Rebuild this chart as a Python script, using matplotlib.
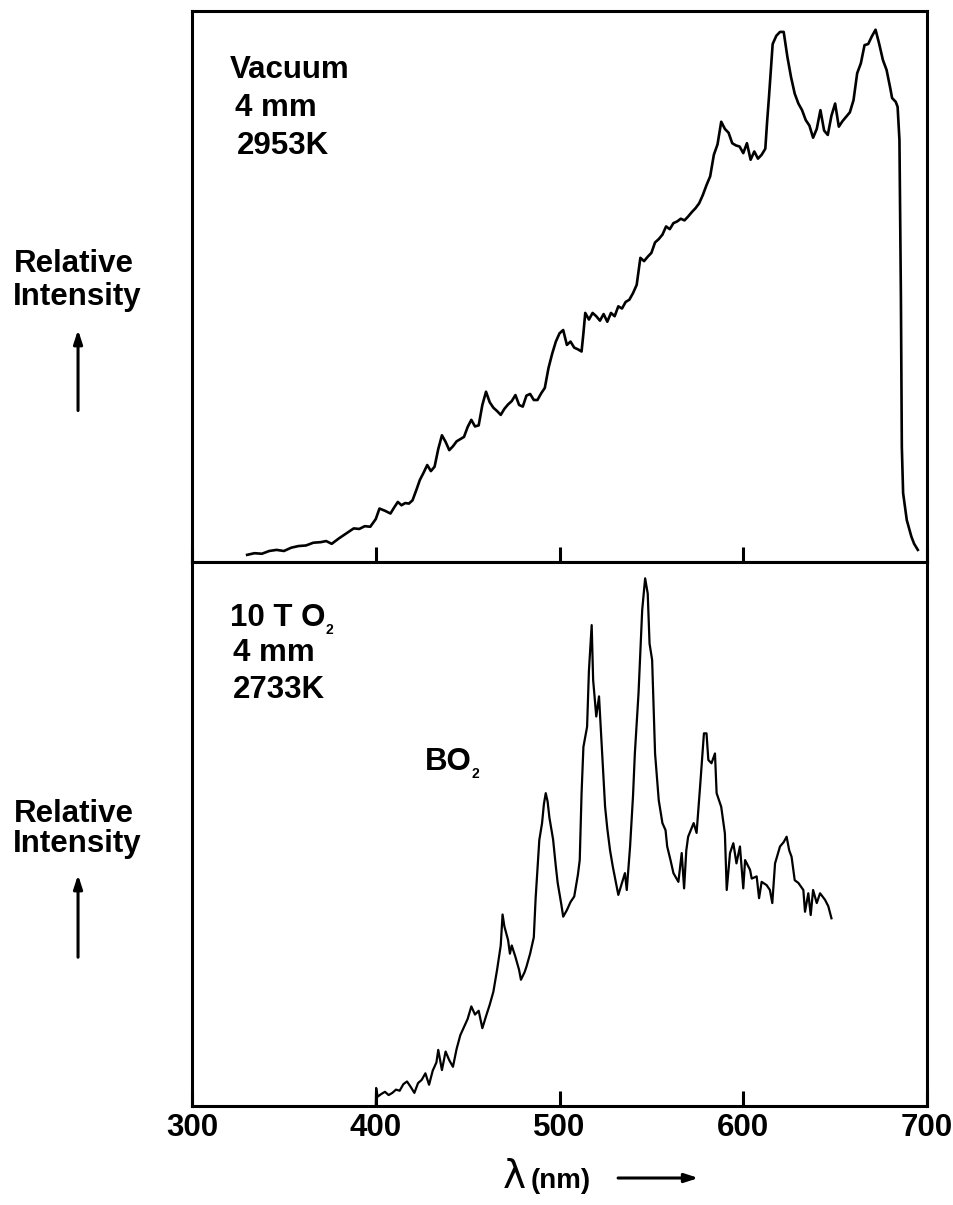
import matplotlib
matplotlib.use("Agg")
import matplotlib.pyplot as plt

plt.rcParams["font.family"] = ["Liberation Sans", "DejaVu Sans"]
plt.rcParams["font.weight"] = "bold"

# emission spectrum in vacuum, 4 mm above the surface
vac_wl = [330, 334, 338, 342, 346, 350, 354, 358, 362, 366,
          370, 373, 376, 380, 384, 388, 391, 394, 397, 400,
          402, 405, 408, 410, 412, 414, 416, 418, 420, 422,
          424, 426, 428, 430, 432, 434, 436, 438, 440, 442,
          444, 446, 448, 450, 452, 454, 456, 458, 460, 462,
          464, 466, 468, 470, 472, 474, 476, 478, 480, 482,
          484, 486, 488, 490, 492, 494, 496, 498, 500, 502,
          504, 506, 508, 510, 512, 513, 514, 516, 518, 520,
          522, 524, 526, 528, 530, 532, 534, 536, 538, 540,
          542, 544, 546, 548, 550, 552, 554, 556, 558, 560,
          562, 564, 566, 568, 570, 572, 574, 576, 578, 580,
          582, 584, 586, 588, 590, 592, 594, 596, 598, 600,
          602, 604, 606, 608, 610, 612, 613, 614, 616, 618,
          620, 622, 624, 626, 628, 630, 632, 634, 636, 638,
          640, 642, 644, 646, 648, 650, 652, 654, 656, 658,
          660, 662, 664, 666, 668, 670, 672, 674, 676, 678,
          680, 681, 683, 684, 685, 685.8, 686.3, 687, 689, 691.5,
          693, 695]
vac_int = [1.3, 1.6, 1.5, 2.0, 2.2, 2.0, 2.6, 2.9, 3.0, 3.5,
           3.6, 3.8, 3.3, 4.3, 5.2, 6.1, 6.0, 6.5, 6.4, 7.8,
           9.7, 9.3, 8.8, 9.9, 10.9, 10.3, 10.7, 10.6, 11.2, 13.0,
           14.9, 16.2, 17.6, 16.5, 17.3, 20.5, 23.0, 21.8, 20.3, 21.0,
           21.9, 22.3, 22.7, 24.5, 25.8, 24.6, 24.8, 28.5, 30.9, 29.0,
           28.0, 27.4, 26.7, 27.8, 28.6, 29.2, 30.3, 28.5, 28.2, 30.2,
           30.5, 29.4, 29.4, 30.6, 31.6, 35.2, 37.8, 40.0, 41.5, 42.1,
           39.4, 40.0, 38.9, 38.6, 38.2, 41.5, 45.2, 44.0, 45.2, 44.6,
           43.8, 45.0, 43.6, 45.2, 44.6, 46.4, 46.0, 47.2, 47.6, 48.8,
           50.3, 55.2, 54.6, 55.4, 56.1, 58.0, 58.6, 59.4, 60.9, 60.4,
           61.5, 61.8, 62.3, 62.0, 62.7, 63.5, 64.2, 65.1, 66.6, 68.4,
           70.0, 73.9, 75.8, 79.9, 78.6, 77.9, 76.0, 75.6, 75.4, 74.2,
           76.0, 73.0, 74.5, 73.2, 73.9, 75.0, 80.0, 84.4, 94.0, 95.5,
           96.2, 96.2, 91.7, 88.0, 85.0, 83.2, 82.0, 80.2, 79.2, 77.0,
           78.6, 82.0, 78.3, 77.5, 81.0, 83.2, 79.0, 80.0, 80.8, 81.6,
           83.8, 88.7, 90.5, 93.8, 94.0, 95.4, 96.6, 94.0, 91.1, 89.3,
           86.0, 84.2, 83.5, 82.6, 76.6, 48.0, 20.9, 12.5, 7.6, 4.6,
           3.3, 2.2]

# emission spectrum in 10 torr O2, BO2 bands
ox_wl = [400.0, 400.2, 401, 403, 405, 407, 409, 411, 413, 415,
         417, 419, 421, 423, 425, 427, 429, 431, 433, 434,
         436, 438, 440, 442, 444, 446, 448, 450, 452, 454,
         456, 458, 460, 462, 464, 466, 468, 469, 470, 472,
         473, 474, 476, 478, 479, 481, 482, 484, 486, 487,
         489, 490.5, 491.5, 492.5, 493.5, 494.5, 496.5, 498, 499, 501,
         502, 504, 506, 508, 510, 511, 512, 513, 515, 516,
         517.5, 518.3, 520, 521.5, 523, 524.8, 526, 527.5, 529, 531,
         532, 534, 535.6, 536.6, 538.4, 540, 541, 543, 545, 546.6,
         548, 549, 550.4, 552, 554, 556, 557.7, 558.6, 560.4, 562,
         564.7, 566.5, 567.8, 569, 570, 573, 574.6, 576.5, 578.6, 580,
         581, 582.7, 584.6, 585.5, 588, 590, 591, 592.8, 594.6, 596.3,
         598.2, 600, 601, 603.7, 604.6, 607.3, 608.6, 610, 612.7, 614.5,
         615.8, 617.3, 620, 622, 623.6, 625, 626.3, 628, 630, 632.7,
         633.6, 635.4, 636.7, 638, 640, 641.8, 644.5, 646.3, 648]
ox_int = [0.0, 3.3, 1.7, 2.2, 2.6, 2.0, 2.4, 3.0, 2.8, 4.0,
          4.5, 3.5, 2.4, 4.2, 4.8, 6.0, 3.9, 6.5, 8.0, 10.3,
          6.6, 10.0, 8.4, 7.2, 10.5, 13.0, 14.5, 16.0, 18.3, 16.8,
          17.5, 14.3, 16.5, 18.6, 21.0, 25.0, 29.5, 35.2, 33.0, 30.5,
          28.0, 29.5, 27.4, 25.0, 23.2, 24.6, 25.6, 28.0, 31.0, 38.2,
          48.9, 52.0, 55.5, 57.5, 56.0, 53.0, 49.0, 44.0, 41.0, 37.0,
          34.8, 36.0, 37.5, 38.5, 42.5, 45.2, 57.5, 66.0, 69.7, 80.0,
          88.4, 78.3, 71.6, 75.3, 66.0, 55.0, 51.0, 47.0, 44.0, 40.5,
          38.8, 41.0, 42.8, 39.7, 47.7, 57.0, 64.8, 75.9, 91.2, 97.0,
          94.2, 85.0, 82.0, 64.8, 56.2, 52.0, 50.7, 47.7, 45.2, 42.8,
          41.2, 46.5, 40.0, 47.0, 49.5, 52.0, 50.2, 58.7, 68.5, 68.5,
          63.6, 63.0, 64.8, 57.5, 55.0, 50.1, 39.7, 46.5, 48.3, 44.6,
          47.7, 40.0, 45.2, 43.4, 41.8, 42.2, 38.2, 41.2, 40.6, 39.7,
          37.3, 44.6, 47.7, 48.5, 49.5, 47.0, 45.8, 41.5, 41.0, 39.7,
          35.7, 39.1, 35.1, 39.7, 37.3, 39.1, 37.9, 36.7, 34.5]

x_ticks = [300, 400, 500, 600, 700]
top_notes = ["Vacuum", "4 mm", "2953K"]
bottom_notes = ["10 T O", "4 mm", "2733K"]

fs = 22.5

fig = plt.figure(figsize=(9.54, 12.05), dpi=100)
ax_top = fig.add_axes([0.2013, 0.5336, 0.7704, 0.4573])
ax_bot = fig.add_axes([0.2013, 0.0822, 0.7704, 0.4514])

for ax in (ax_top, ax_bot):
    ax.set_xlim(300, 700)
    ax.set_ylim(0, 100)
    ax.set_yticks([])
    ax.set_xticks(x_ticks)
    ax.tick_params(axis="x", direction="in", length=11, width=2.2, pad=5,
                   labelsize=fs)
    for s in ax.spines.values():
        s.set_linewidth(2.2)

ax_top.tick_params(axis="x", labelbottom=False)
for lab in ax_bot.get_xticklabels():
    lab.set_fontweight("bold")

ax_top.plot(vac_wl, vac_int, color="black", lw=1.9)
ax_bot.plot(ox_wl, ox_int, color="black", lw=1.6)

ax_top.text(0.052, 0.893, top_notes[0], transform=ax_top.transAxes,
            fontsize=fs, fontweight="bold", va="center")
ax_top.text(0.058, 0.824, top_notes[1], transform=ax_top.transAxes,
            fontsize=fs, fontweight="bold", va="center")
ax_top.text(0.061, 0.755, top_notes[2], transform=ax_top.transAxes,
            fontsize=fs, fontweight="bold", va="center")

t_o2 = ax_bot.text(0.052, 0.897, bottom_notes[0], transform=ax_bot.transAxes,
                   fontsize=fs, fontweight="bold", va="center")
ax_bot.annotate("2", xy=(1, 0), xycoords=t_o2, xytext=(0, 2),
                textcoords="offset points", fontsize=10, fontweight="bold",
                va="center")
ax_bot.text(0.056, 0.833, bottom_notes[1], transform=ax_bot.transAxes,
            fontsize=fs, fontweight="bold", va="center")
ax_bot.text(0.056, 0.765, bottom_notes[2], transform=ax_bot.transAxes,
            fontsize=fs, fontweight="bold", va="center")
t_bo = ax_bot.text(0.317, 0.632, "BO", transform=ax_bot.transAxes,
                   fontsize=fs, fontweight="bold", va="center")
ax_bot.annotate("2", xy=(1, 0), xycoords=t_bo, xytext=(0, 2),
                textcoords="offset points", fontsize=10, fontweight="bold",
                va="center")

# y labels with upward arrows
for y_rel, y_int, y0, y1 in [(0.7743, 0.7469, 0.657, 0.7286),
                             (0.3178, 0.2929, 0.2033, 0.2763)]:
    fig.text(0.0147, y_rel, "Relative", fontsize=fs, fontweight="bold",
             va="baseline")
    fig.text(0.0136, y_int, "Intensity", fontsize=fs, fontweight="bold",
             va="baseline")
    fig.patches.append(matplotlib.patches.FancyArrowPatch(
        (0.0818, y0), (0.0818, y1), transform=fig.transFigure,
        arrowstyle="-|>,head_length=4,head_width=1.3", lw=2.2,
        color="black", mutation_scale=2))

# x label with arrow
fig.text(0.527, 0.0145, "λ", fontsize=28, family="DejaVu Sans",
         fontweight="normal", ha="left", va="baseline")
fig.text(0.556, 0.0145, "(nm)", fontsize=20, fontweight="bold",
         ha="left", va="baseline")
fig.patches.append(matplotlib.patches.FancyArrowPatch(
    (0.645, 0.0224), (0.735, 0.0224), transform=fig.transFigure,
    arrowstyle="-|>,head_length=4,head_width=1.3", lw=2.2,
    color="black", mutation_scale=2))

fig.savefig("out.png", dpi=100)
